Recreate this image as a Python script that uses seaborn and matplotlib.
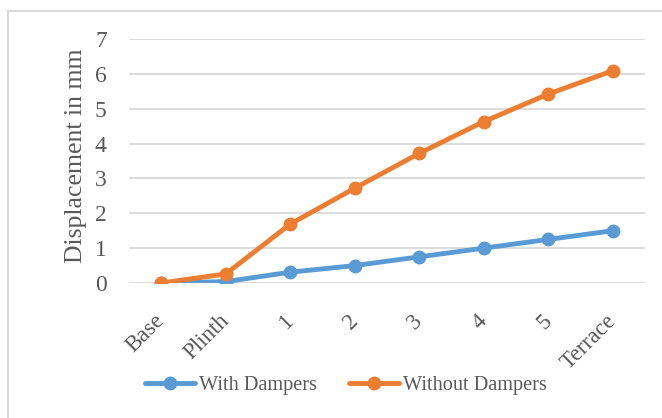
import matplotlib
matplotlib.use("Agg")
import matplotlib.pyplot as plt
from matplotlib.patches import Rectangle
import seaborn as sns
import pandas as pd

levels = ["Base", "Plinth", "1", "2", "3", "4", "5", "Terrace"]
with_dampers = [0.0, 0.04, 0.31, 0.50, 0.75, 1.00, 1.25, 1.50]
without_dampers = [0.0, 0.26, 1.69, 2.72, 3.72, 4.63, 5.42, 6.09]
series_names = ["With Dampers", "Without Dampers"]
colors = ["#5B9BD5", "#ED7D31"]

df = pd.DataFrame({
    "Level": levels * 2,
    "Displacement": with_dampers + without_dampers,
    "Series": [series_names[0]] * len(levels) + [series_names[1]] * len(levels),
})

sns.set_theme(style="white")
plt.rcParams["font.family"] = ["Liberation Serif", "DejaVu Serif"]
text_color = "#595959"

fig = plt.figure(figsize=(6.62, 4.18), dpi=100)
ax = fig.add_axes([129 / 662, 1 - 283 / 418, (645 - 129) / 662, (283 - 39) / 418])

sns.lineplot(data=df, x="Level", y="Displacement", hue="Series",
             palette=colors, marker="o", markersize=10, linewidth=3.5,
             markeredgewidth=0, sort=False, ax=ax, legend=False)

ax.set_xlim(-0.5, len(levels) - 0.5)
ax.set_ylim(0, 7)
ax.set_yticks(range(0, 8))
ax.grid(axis="y", color="#D9D9D9", linewidth=1.3)
ax.set_axisbelow(True)
for s in ax.spines.values():
    s.set_visible(False)
ax.tick_params(axis="both", length=0, colors=text_color)
ax.tick_params(axis="y", pad=16, labelsize=17)
ax.set_xticks(range(len(levels)))
ax.set_xticklabels(levels, rotation=45, ha="right", va="center",
                   rotation_mode="anchor", fontsize=16.5, color=text_color)
ax.tick_params(axis="x", pad=25)
ax.set_xlabel("")
ax.set_ylabel("Displacement in mm", fontsize=18.5, color=text_color, labelpad=6)
ax.yaxis.label.set_y(0.52)

handles = [plt.Line2D([], [], color=c, marker="o", markersize=10, linewidth=3.5,
                      markeredgewidth=0) for c in colors]
fig.legend(handles, series_names, loc="center", ncol=2, frameon=False,
           bbox_to_anchor=(346 / 662, 1 - 385 / 418), fontsize=14.6,
           labelcolor=text_color, handlelength=2.45, handletextpad=0.2,
           columnspacing=1.6)

fig.patches.append(Rectangle((8 / 662, -0.1), 1.2, 1 - 11 / 418 + 0.1,
                             transform=fig.transFigure, fill=False,
                             edgecolor="#D9D9D9", linewidth=1.5))

fig.savefig("out.png", dpi=100, facecolor="white")
